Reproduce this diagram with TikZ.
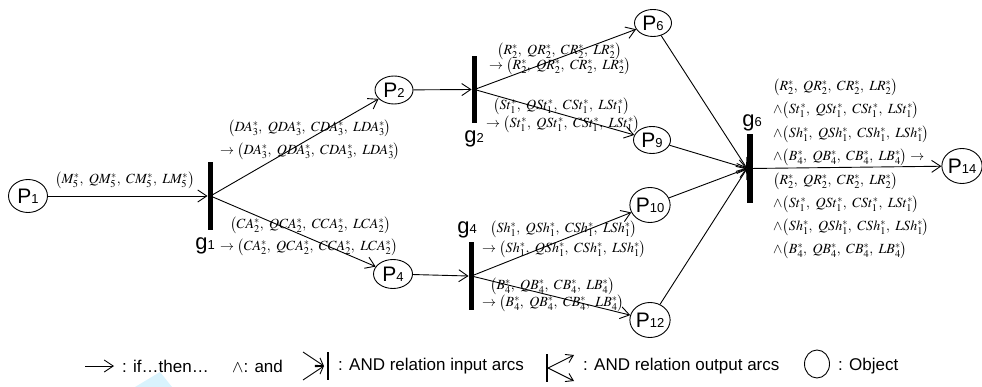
\documentclass[tikz,border=0pt]{standalone}
\usepackage{mathptmx}
\usepackage[no-math]{fontspec}
\newfontfamily\arial{Liberation Sans}
\usetikzlibrary{arrows.meta,shapes.geometric}
\newcommand\cm{,\mskip5mu}
\newcommand\Tpl[2]{\bigl(#1^{*}_{#2}\cm Q#1^{*}_{#2}\cm C#1^{*}_{#2}\cm L#1^{*}_{#2}\bigr)}
\newcommand\Pn[1]{{\arial\fontsize{21}{21}\selectfont P}{\arial\fontsize{13}{13}\selectfont #1}}
\newcommand\Gn[1]{{\arial\fontsize{22}{22}\selectfont g}{\arial\fontsize{13}{13}\selectfont #1}}
\tikzset{
  obj/.style={draw, ellipse, line width=0.9pt, inner sep=0pt},
  bar/.style={fill=black, rectangle, inner sep=0pt, minimum width=5.5pt},
  arr/.style={line width=0.9pt, -{Straight Barb[length=9pt,width=12pt,line width=0.9pt]}},
  sarr/.style={line width=0.9pt, -{Straight Barb[length=7pt,width=9pt,line width=0.9pt]}},
  lbl/.style={inner sep=0pt, anchor=west, font=\fontsize{14}{16}\selectfont},
  glab/.style={inner sep=0pt},
  leg/.style={inner sep=0pt, anchor=west, font=\arial\fontsize{17}{19}\selectfont},
}
\begin{document}
\begin{tikzpicture}[x=1pt,y=-1pt]
\useasboundingbox (0,0) rectangle (982,387);
% light blue artifact
\fill[cyan!15] (160,372) -- (172,387) -- (135,387) -- cycle;
% objects
\node[obj, minimum width=39pt, minimum height=33pt] (P1) at (28,196) {\Pn{1}};
\node[obj, minimum width=38pt, minimum height=28pt] (P2) at (394,90) {\Pn{2}};
\node[obj, minimum width=39pt, minimum height=29pt] (P4) at (393,274) {\Pn{4}};
\node[obj, minimum width=37pt, minimum height=27pt] (P6) at (653,23) {\Pn{6}};
\node[obj, minimum width=37pt, minimum height=27pt] (P9) at (652,140) {\Pn{9}};
\node[obj, minimum width=36pt, minimum height=35pt] (P10) at (650,205) {\Pn{10}};
\node[obj, minimum width=36pt, minimum height=35pt] (P12) at (650,320) {\Pn{12}};
\node[obj, minimum width=39pt, minimum height=35pt] (P14) at (962,166) {\Pn{14}};
% bars
\node[bar, minimum height=68pt] (g1) at (210.5,196) {};
\node[bar, minimum height=67pt] (g2) at (474.5,89.5) {};
\node[bar, minimum height=68pt] (g4) at (471.5,276) {};
\node[bar, minimum height=69pt] (g6) at (750,168.5) {};
\node[glab] (g1l) at (205,246) {\Gn{1}};
\node[glab] (g2l) at (474,139) {\Gn{2}};
\node[glab] (g4l) at (467,230) {\Gn{4}};
\node[glab] (g6l) at (752,123) {\Gn{6}};
% arcs
\draw[arr] (P1) -- (g1.west);
\draw[arr] (g1.center) -- (P2);
\draw[arr] (g1.center) -- (P4);
\draw[arr] (P2) -- (g2.west);
\draw[arr] (g2.center) -- (P6);
\draw[arr] (g2.center) -- (P9);
\draw[arr] (P4) -- (g4.west);
\draw[arr] (g4.center) -- (P10);
\draw[arr] (g4.center) -- (P12);
\draw[arr] (P6) -- (g6.west);
\draw[arr] (P9) -- (g6.west);
\draw[arr] (P10) -- (g6.west);
\draw[arr] (P12) -- (g6.west);
\draw[arr] (g6.center) -- (P14);
% labels
\node[lbl] (m1) at (55,180) {$\Tpl{M}{5}$};
\node[lbl] (da1) at (228,128) {$\Tpl{DA}{3}$};
\node[lbl] (da2) at (220,151) {$\rightarrow\Tpl{DA}{3}$};
\node[lbl] (ca1) at (230,225) {$\Tpl{CA}{2}$};
\node[lbl] (ca2) at (220,247) {$\rightarrow\Tpl{CA}{2}$};
\node[lbl] (r1) at (497,51) {$\Tpl{R}{2}$};
\node[lbl] (r2) at (489,66) {$\rightarrow\Tpl{R}{2}$};
\node[lbl] (st1) at (493,106) {$\Tpl{St}{1}$};
\node[lbl] (st2) at (486,124) {$\rightarrow\Tpl{St}{1}$};
\node[lbl] (sh1) at (490,229) {$\Tpl{Sh}{1}$};
\node[lbl] (sh2) at (482,249) {$\rightarrow\Tpl{Sh}{1}$};
\node[lbl] (b1) at (490,286) {$\Tpl{B}{4}$};
\node[lbl] (b2) at (482,303) {$\rightarrow\Tpl{B}{4}$};
\node[lbl] (t1) at (773,87) {$\Tpl{R}{2}$};
\node[lbl] (t2) at (773,110) {$\wedge\Tpl{St}{1}$};
\node[lbl] (t3) at (773,134) {$\wedge\Tpl{Sh}{1}$};
\node[lbl] (t4) at (773,157) {$\wedge\Tpl{B}{4}\rightarrow$};
\node[lbl] (t5) at (773,181) {$\Tpl{R}{2}$};
\node[lbl] (t6) at (773,204) {$\wedge\Tpl{St}{1}$};
\node[lbl] (t7) at (773,227) {$\wedge\Tpl{Sh}{1}$};
\node[lbl] (t8) at (773,250) {$\wedge\Tpl{B}{4}$};
% legend
\coordinate (la1) at (85,366);
\coordinate (la2) at (114,366);
\draw[arr] (la1) -- (la2);
\node[leg] (l1) at (122,366) {: if…then…};
\node[leg] (l2) at (232,366) {$\wedge$: and};
\coordinate (ia1) at (303,352);
\coordinate (ia2) at (303,380);
\coordinate (iam) at (324,366);
\coordinate (ib1) at (327.5,352);
\coordinate (ib2) at (327.5,380);
\draw[sarr] (ia1) -- (iam);
\draw[sarr] (ia2) -- (iam);
\draw[line width=2pt] (ib1) -- (ib2);
\node[leg] (l3) at (338,366) {: AND relation input arcs};
\coordinate (ob1) at (546.5,354);
\coordinate (ob2) at (546.5,382);
\coordinate (obm) at (548,368);
\coordinate (oa1) at (574,355);
\coordinate (oa2) at (574,381);
\draw[line width=2pt] (ob1) -- (ob2);
\draw[sarr] (obm) -- (oa1);
\draw[sarr] (obm) -- (oa2);
\node[leg] (l4) at (583,366) {: AND relation output arcs};
\node[obj, minimum width=25pt, minimum height=28pt] (lo) at (817,364) {};
\node[leg] (l5) at (838,366) {: Object};
\end{tikzpicture}
\end{document}
